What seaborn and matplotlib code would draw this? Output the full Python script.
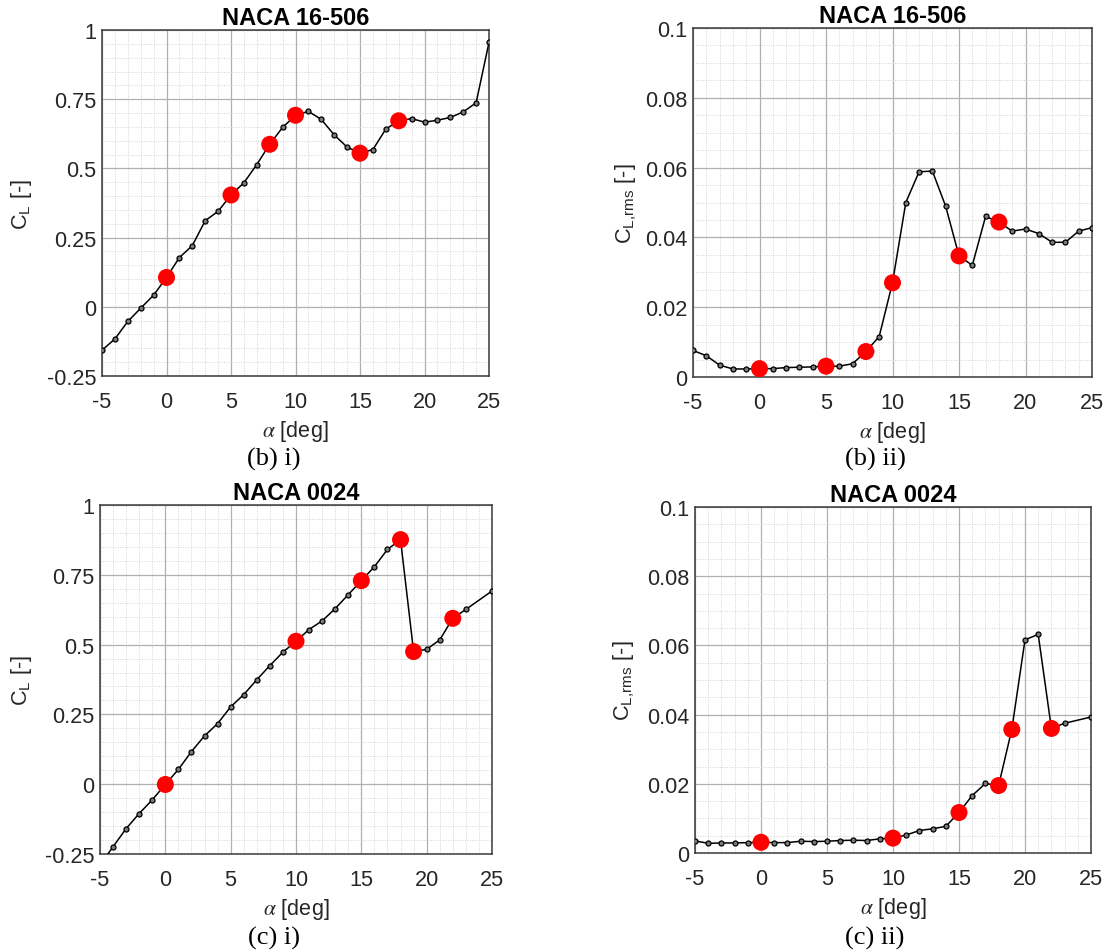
import numpy as np
import pandas as pd
import matplotlib
matplotlib.use("Agg")
import matplotlib.pyplot as plt
import seaborn as sns
from matplotlib.ticker import MultipleLocator, FixedLocator, FixedFormatter

# ---------------- data ----------------
alpha_top = [-5, -4, -3, -2, -1, 0, 1, 2, 3, 4, 5, 6, 7, 8, 9, 10, 11, 12, 13, 14, 15,
             16, 17, 18, 19, 20, 21, 22, 23, 24, 25]
cl_16506 = [-0.157, -0.116, -0.053, -0.005, 0.042, 0.106, 0.178, 0.221, 0.311, 0.345,
            0.404, 0.448, 0.514, 0.587, 0.648, 0.692, 0.706, 0.677, 0.621, 0.577, 0.555,
            0.568, 0.642, 0.672, 0.680, 0.667, 0.674, 0.684, 0.704, 0.737, 0.955]
clrms_16506 = [0.0076, 0.0061, 0.0034, 0.0023, 0.0023, 0.0024, 0.0024, 0.0027, 0.0028,
               0.0029, 0.0031, 0.0031, 0.0038, 0.0073, 0.0116, 0.0270, 0.0500, 0.0588,
               0.0590, 0.0489, 0.0347, 0.0320, 0.0460, 0.0444, 0.0418, 0.0424, 0.0411,
               0.0386, 0.0386, 0.0418, 0.0428]
red_top = [0, 5, 8, 10, 15, 18]

alpha_bot = [-5, -4, -3, -2, -1, 0, 1, 2, 3, 4, 5, 6, 7, 8, 9, 10, 11, 12, 13, 14, 15,
             16, 17, 18, 19, 20, 21, 22, 23, 25]
cl_0024 = [-0.290, -0.224, -0.159, -0.105, -0.056, -0.001, 0.053, 0.117, 0.173, 0.217,
           0.277, 0.321, 0.374, 0.425, 0.473, 0.512, 0.554, 0.585, 0.629, 0.679, 0.729,
           0.779, 0.841, 0.876, 0.475, 0.483, 0.517, 0.594, 0.626, 0.692]
clrms_0024 = [0.0035, 0.0028, 0.0029, 0.0029, 0.0030, 0.0031, 0.0030, 0.0030, 0.0034,
              0.0033, 0.0034, 0.0036, 0.0037, 0.0036, 0.0041, 0.0043, 0.0052, 0.0065,
              0.0070, 0.0077, 0.0117, 0.0166, 0.0201, 0.0195, 0.0357, 0.0616, 0.0632,
              0.0360, 0.0375, 0.0393]
red_bot = [0, 10, 15, 18, 19, 22]

titles = ["NACA 16-506", "NACA 16-506", "NACA 0024", "NACA 0024"]
ylabels = ["C$_\\mathregular{L}$ [-]", "C$_\\mathregular{L{,}rms}$ [-]",
           "C$_\\mathregular{L}$ [-]", "C$_\\mathregular{L{,}rms}$ [-]"]
captions = ["(b) i)", "(b) ii)", "(c) i)", "(c) ii)"]
xticks = [-5, 0, 5, 10, 15, 20, 25]
xticklabels = ["-5", "0", "5", "10", "15", "20", "25"]
cl_ticks = [-0.25, 0, 0.25, 0.5, 0.75, 1]
cl_ticklabels = ["-0.25", "0", "0.25", "0.5", "0.75", "1"]
rms_ticks = [0, 0.02, 0.04, 0.06, 0.08, 0.1]
rms_ticklabels = ["0", "0.02", "0.04", "0.06", "0.08", "0.1"]

# ---------------- style ----------------
sns.set_style("white")
plt.rcParams["font.family"] = ["Liberation Sans", "DejaVu Sans"]
plt.rcParams["mathtext.fontset"] = "stix"
TXT = "#262626"
FS = 15.6

W, H = 1108, 953
fig = plt.figure(figsize=(W / 100, H / 100), dpi=100)

def fpos(l, r, t, b):
    return [l / W, 1 - b / H, (r - l) / W, (b - t) / H]

rects = [fpos(102, 489, 31, 377), fpos(693, 1092, 29, 378),
         fpos(100, 492, 506, 855), fpos(695, 1091, 508, 854)]
ylab_x = [-0.176, -0.138, -0.168, -0.149]
cap_pos = [(274, 459), (875, 459), (274, 938), (875, 938)]

panels = [
    (alpha_top, cl_16506, red_top, cl_ticks, cl_ticklabels, (-0.25, 1), 0.05),
    (alpha_top, clrms_16506, red_top, rms_ticks, rms_ticklabels, (0, 0.1), 0.005),
    (alpha_bot, cl_0024, red_bot, cl_ticks, cl_ticklabels, (-0.25, 1), 0.05),
    (alpha_bot, clrms_0024, red_bot, rms_ticks, rms_ticklabels, (0, 0.1), 0.005),
]

for i, (xs, ys, reds, yt, ytl, ylim, yminor) in enumerate(panels):
    ax = fig.add_axes(rects[i])
    df = pd.DataFrame({"alpha": xs, "val": ys})
    dred = df[df["alpha"].isin(reds)]
    sns.lineplot(data=df, x="alpha", y="val", ax=ax, color="black", linewidth=1.1,
                 marker="o", markersize=3.6, markerfacecolor="#7a7a7a",
                 markeredgecolor="black", markeredgewidth=0.9, sort=False, zorder=3)
    sns.scatterplot(data=dred, x="alpha", y="val", ax=ax, color="#ff0000", s=150,
                    edgecolor="none", linewidth=0, zorder=4)
    ax.set_xlim(-5, 25)
    ax.set_ylim(*ylim)
    ax.xaxis.set_major_locator(FixedLocator(xticks))
    ax.xaxis.set_major_formatter(FixedFormatter(xticklabels))
    ax.yaxis.set_major_locator(FixedLocator(yt))
    ax.yaxis.set_major_formatter(FixedFormatter(ytl))
    ax.xaxis.set_minor_locator(MultipleLocator(1))
    ax.yaxis.set_minor_locator(MultipleLocator(yminor))
    ax.grid(which="major", color="#b0b0b0", linewidth=0.9, linestyle="-", zorder=0)
    ax.grid(which="minor", color="#d4d4d4", linewidth=0.7, linestyle=(0, (1, 1.5)), zorder=0)
    ax.set_axisbelow(True)
    ax.tick_params(which="both", length=0, labelsize=FS, labelcolor=TXT)
    ax.tick_params(axis="x", pad=11)
    ax.tick_params(axis="y", pad=4)
    for sp in ax.spines.values():
        sp.set_color("#3a3a3a")
        sp.set_linewidth(1.1)
        sp.set_visible(True)
    ax.set_title(titles[i], fontsize=17, fontweight="bold", color="black", pad=4)
    ax.set_xlabel("$\\alpha$ [deg]", fontsize=FS, color=TXT, labelpad=4)
    ax.set_ylabel(ylabels[i], fontsize=FS, color=TXT)
    ax.yaxis.set_label_coords(ylab_x[i], 0.5)
    cx, cy = cap_pos[i]
    fig.text(cx / W, 1 - cy / H, captions[i], ha="center", va="center",
             fontsize=19, family=["Liberation Serif", "DejaVu Serif"], color="black")

fig.savefig("out.png", dpi=100, facecolor="white")
